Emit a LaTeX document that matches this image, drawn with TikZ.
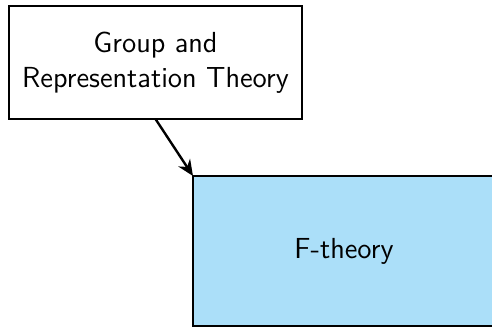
\documentclass[tikz,border=0pt]{standalone}
\usetikzlibrary{arrows.meta}
\definecolor{boxblue}{RGB}{171,223,249}
\begin{document}
\begin{tikzpicture}[x=0.5pt,y=-0.5pt,
  box/.style={draw=black, line width=1.2pt, rectangle, inner sep=0pt, outer sep=0pt,
    align=center, font=\sffamily\fontsize{14.5}{17.5}\selectfont},
  conn/.style={line width=1.2pt, -{Stealth[length=8pt,width=7pt]}}]
\useasboundingbox (0,0) rectangle (492,328);
\node[box, minimum width=146.5pt, minimum height=56.5pt] (g) at (155.5,62.5) {Group and\\Representation Theory};
\node[box, fill=boxblue, minimum width=151pt, minimum height=75pt] (f) at (344,251) {F-theory};
\draw[conn] (g.south) -- (f.north west);
\end{tikzpicture}
\end{document}
